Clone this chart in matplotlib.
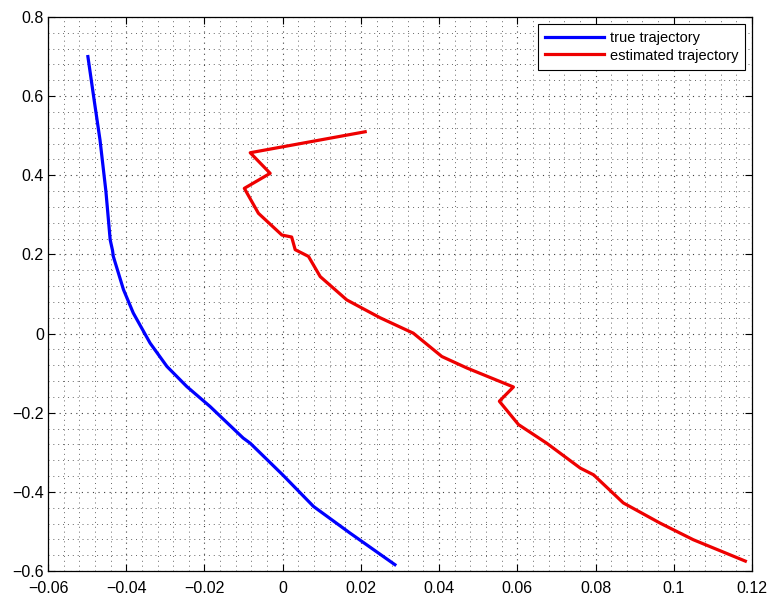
import matplotlib
matplotlib.use("Agg")
import matplotlib.pyplot as plt
from matplotlib.ticker import MultipleLocator, FuncFormatter

# trajectory points
true_x = [-0.0498, -0.0482, -0.0467, -0.0452, -0.0441, -0.0435, -0.0433, -0.0407,
          -0.0382, -0.0339, -0.0296, -0.0245, -0.0186, -0.0101, -0.0083, 0.0,
          0.0079, 0.0172, 0.0287]
true_y = [0.700, 0.590, 0.489, 0.360, 0.237, 0.210, 0.195, 0.111,
          0.052, -0.024, -0.083, -0.134, -0.184, -0.264, -0.277, -0.357,
          -0.437, -0.504, -0.584]

est_x = [0.0211, -0.0083, -0.0032, -0.0098, -0.0062, -0.0002, 0.0023, 0.0032,
         0.0066, 0.0096, 0.0164, 0.0249, 0.0334, 0.0407, 0.0471, 0.0590,
         0.0554, 0.0603, 0.0675, 0.0761, 0.0795, 0.0871, 0.0965, 0.1050, 0.1183]
est_y = [0.510, 0.457, 0.405, 0.367, 0.304, 0.249, 0.244, 0.212,
         0.195, 0.144, 0.085, 0.040, 0.001, -0.058, -0.087, -0.135,
         -0.171, -0.230, -0.277, -0.340, -0.357, -0.428, -0.479, -0.521, -0.575]

plt.rcParams['font.family'] = ['Liberation Sans', 'DejaVu Sans']

fig = plt.figure(figsize=(7.67, 5.97), dpi=100)
ax = fig.add_axes([48/767, 26/597, 704/767, 554/597])

ax.plot(true_x, true_y, color='#0000ff', lw=2.3, label='true trajectory')
ax.plot(est_x, est_y, color='#ee0000', lw=2.3, label='estimated trajectory')

ax.set_xlim(-0.06, 0.12)
ax.set_ylim(-0.6, 0.8)
ax.xaxis.set_major_locator(MultipleLocator(0.02))
ax.xaxis.set_minor_locator(MultipleLocator(0.004))
ax.yaxis.set_major_locator(MultipleLocator(0.2))
ax.yaxis.set_minor_locator(MultipleLocator(0.04))

def fmt(v, pos):
    s = ('%.2f' % v).rstrip('0').rstrip('.')
    if s in ('-0', ''):
        s = '0'
    return s.replace('-', '\u2212')

ax.xaxis.set_major_formatter(FuncFormatter(fmt))
ax.yaxis.set_major_formatter(FuncFormatter(fmt))

ax.tick_params(which='both', direction='in', top=True, right=True, labelsize=11.5)
ax.tick_params(which='major', length=5, width=0.8)
ax.tick_params(axis='x', which='major', pad=7)
ax.tick_params(axis='y', which='major', pad=3)
ax.tick_params(which='minor', length=0)

ax.grid(which='major', color='0.25', linestyle=(0, (1, 4)), lw=0.8)
ax.grid(which='minor', color='0.4', linestyle=(0, (1, 4)), lw=0.7)
ax.set_axisbelow(True)
for sp in ax.spines.values():
    sp.set_linewidth(0.9)

leg = ax.legend(loc='upper right', fontsize=10.5, fancybox=False, framealpha=1,
                edgecolor='black', handlelength=4.0, borderaxespad=0.45,
                labelspacing=0.25, handletextpad=0.4, borderpad=0.5)
leg.get_frame().set_linewidth(0.8)

fig.savefig('out.png', dpi=100)
